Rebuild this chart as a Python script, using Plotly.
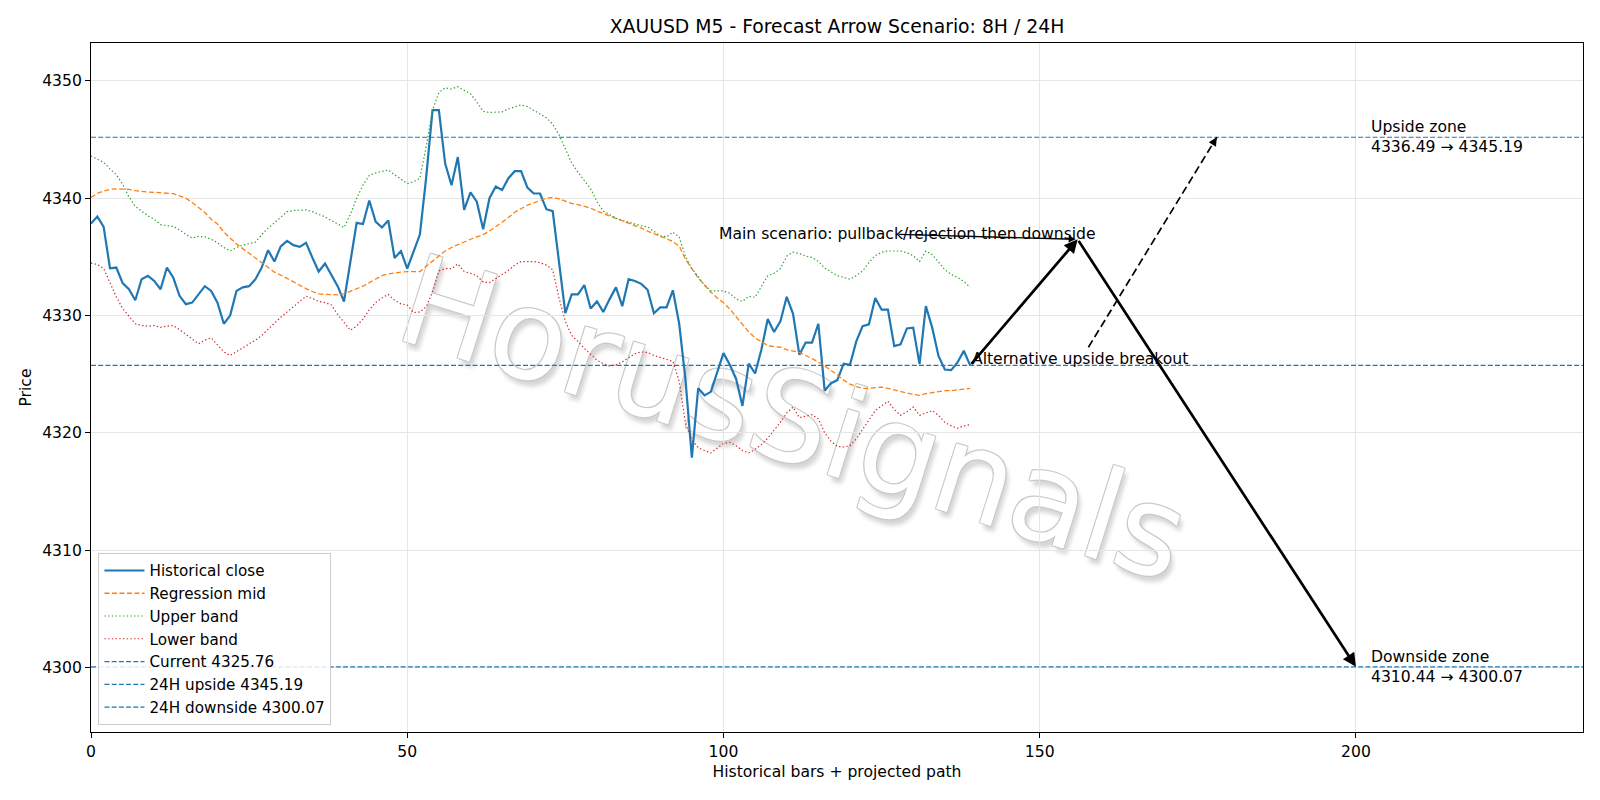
import plotly.graph_objects as go

# ---------------- data ----------------
bars = list(range(140))

close = [4337.84, 4338.44, 4337.56, 4334.03, 4334.09, 4332.76, 4332.24, 4331.30, 4333.10, 4333.38,
         4332.95, 4332.24, 4334.09, 4333.24, 4331.68, 4330.97, 4331.10, 4331.80, 4332.50, 4332.10,
         4331.10, 4329.30, 4330.00, 4332.10, 4332.40, 4332.50, 4333.10, 4334.10, 4335.57, 4334.60,
         4335.90, 4336.36, 4336.00, 4335.85, 4336.20, 4334.94, 4333.75, 4334.43, 4333.50, 4332.50,
         4331.20, 4334.50, 4337.90, 4337.80, 4339.80, 4338.00, 4337.50, 4338.10, 4334.90, 4335.50,
         4334.00, 4335.45, 4336.90, 4341.80, 4347.50, 4347.50, 4342.95, 4341.10, 4343.50, 4339.00,
         4340.50, 4339.70, 4337.35, 4340.00, 4341.00, 4340.70, 4341.70, 4342.30, 4342.30, 4340.90,
         4340.40, 4340.40, 4339.06, 4338.90, 4334.66, 4330.20, 4331.80, 4331.80, 4332.60, 4330.60,
         4331.20, 4330.30, 4331.40, 4332.40, 4330.80, 4333.10, 4332.95, 4332.70, 4332.20, 4330.20,
         4330.70, 4330.70, 4332.15, 4329.30, 4324.50, 4317.90, 4323.80, 4323.20, 4323.50, 4325.10,
         4326.80, 4325.80, 4324.60, 4322.30, 4325.90, 4325.06, 4327.10, 4329.70, 4328.60, 4329.50,
         4331.60, 4330.15, 4326.65, 4327.70, 4327.70, 4329.30, 4323.60, 4324.24, 4324.50, 4325.90,
         4325.80, 4327.80, 4329.10, 4329.25, 4331.50, 4330.50, 4330.50, 4327.40, 4327.55, 4328.90,
         4328.97, 4325.86, 4330.80, 4328.97, 4326.56, 4325.40, 4325.35, 4326.00, 4327.00, 4325.76]

mid = [4340.06, 4340.40, 4340.60, 4340.75, 4340.80, 4340.80, 4340.75, 4340.65, 4340.57, 4340.52,
       4340.50, 4340.45, 4340.43, 4340.38, 4340.20, 4340.00, 4339.63, 4339.20, 4338.78, 4338.20,
       4337.80, 4337.10, 4336.60, 4336.10, 4335.70, 4335.30, 4334.94, 4334.50, 4334.10, 4333.70,
       4333.45, 4333.15, 4332.90, 4332.60, 4332.30, 4332.05, 4331.85, 4331.80, 4331.76, 4331.76,
       4331.85, 4332.05, 4332.30, 4332.50, 4332.80, 4333.10, 4333.40, 4333.55, 4333.65, 4333.70,
       4333.75, 4333.73, 4333.75, 4334.20, 4334.66, 4335.10, 4335.50, 4335.80, 4336.05, 4336.30,
       4336.50, 4336.70, 4336.90, 4337.20, 4337.55, 4337.95, 4338.35, 4338.80, 4339.10, 4339.40,
       4339.60, 4339.80, 4340.00, 4340.06, 4339.95, 4339.75, 4339.55, 4339.45, 4339.30, 4339.15,
       4338.90, 4338.70, 4338.45, 4338.25, 4338.05, 4337.85, 4337.65, 4337.45, 4337.20, 4336.95,
       4336.75, 4336.55, 4336.30, 4335.90, 4334.80, 4334.00, 4333.20, 4332.60, 4332.00, 4331.50,
       4331.10, 4330.55, 4329.90, 4329.30, 4328.60, 4328.10, 4327.75, 4327.45, 4327.35, 4327.30,
       4327.10, 4326.95, 4326.85, 4326.60, 4326.35, 4326.05, 4325.70, 4325.35, 4324.95, 4324.50,
       4324.15, 4323.95, 4323.80, 4323.80, 4323.85, 4323.90, 4323.80, 4323.65, 4323.55, 4323.40,
       4323.30, 4323.20, 4323.35, 4323.45, 4323.50, 4323.60, 4323.60, 4323.65, 4323.75, 4323.80]

upper = [4343.60, 4343.35, 4343.05, 4342.50, 4342.00, 4341.20, 4340.10, 4339.30, 4338.90, 4338.50,
         4338.20, 4337.75, 4337.65, 4337.60, 4337.30, 4336.90, 4336.60, 4336.75, 4336.70, 4336.50,
         4336.20, 4335.80, 4335.50, 4335.80, 4336.00, 4336.10, 4336.25, 4336.90, 4337.45, 4337.90,
         4338.40, 4338.85, 4338.95, 4339.00, 4339.00, 4338.85, 4338.65, 4338.40, 4338.10, 4337.80,
         4337.50, 4338.60, 4340.00, 4341.10, 4341.95, 4342.15, 4342.30, 4342.40, 4342.00, 4341.60,
         4341.25, 4341.40, 4341.70, 4344.40, 4347.50, 4349.00, 4349.40, 4349.30, 4349.50, 4349.20,
         4348.90, 4348.20, 4347.40, 4347.30, 4347.30, 4347.35, 4347.60, 4347.80, 4347.95, 4347.80,
         4347.50, 4347.20, 4346.85, 4346.30, 4345.40, 4344.20, 4343.00, 4342.20, 4341.50, 4340.80,
         4339.70, 4338.90, 4338.60, 4338.30, 4338.10, 4337.95, 4337.75, 4337.65, 4337.55, 4337.20,
         4336.80, 4336.70, 4337.10, 4336.70, 4335.00, 4334.00, 4333.35, 4332.60, 4332.10, 4332.10,
         4332.10, 4331.90, 4331.40, 4331.20, 4331.65, 4331.55, 4332.50, 4333.40, 4333.60, 4334.00,
         4335.05, 4335.40, 4335.30, 4335.05, 4334.95, 4334.60, 4334.05, 4333.70, 4333.40, 4333.25,
         4333.10, 4333.40, 4333.80, 4334.50, 4335.10, 4335.40, 4335.50, 4335.50, 4335.50, 4335.35,
         4335.10, 4334.60, 4335.50, 4335.20, 4334.50, 4333.90, 4333.50, 4333.25, 4332.90, 4332.40]

lower = [4334.46, 4334.35, 4334.00, 4332.80, 4331.60, 4330.60, 4329.90, 4329.30, 4329.15, 4329.10,
         4329.15, 4329.00, 4329.10, 4329.15, 4328.80, 4328.40, 4328.00, 4327.60, 4327.90, 4328.10,
         4327.50, 4326.90, 4326.60, 4326.90, 4327.25, 4327.60, 4327.90, 4328.30, 4328.85, 4329.35,
         4329.85, 4330.30, 4330.75, 4331.20, 4331.65, 4331.45, 4331.20, 4331.10, 4330.90, 4330.10,
         4329.40, 4328.75, 4329.10, 4329.70, 4330.50, 4331.10, 4331.50, 4331.80, 4331.30, 4331.00,
         4330.90, 4330.25, 4330.30, 4330.75, 4332.00, 4333.80, 4334.00, 4334.00, 4334.40, 4333.75,
         4333.60, 4333.40, 4332.85, 4332.80, 4333.15, 4333.50, 4333.85, 4334.30, 4334.60, 4334.60,
         4334.60, 4334.50, 4334.30, 4333.90, 4331.50, 4329.50, 4328.30, 4327.80, 4327.20, 4326.70,
         4326.20, 4325.90, 4325.70, 4325.80, 4326.05, 4326.40, 4326.75, 4326.90, 4326.85, 4326.60,
         4326.45, 4326.30, 4326.10, 4324.40, 4320.80, 4319.40, 4318.75, 4318.50, 4318.30, 4318.70,
         4319.10, 4319.20, 4318.90, 4318.50, 4318.30, 4318.60, 4319.00, 4319.55, 4320.20, 4320.90,
         4321.70, 4322.20, 4321.30, 4321.40, 4321.55, 4321.20, 4320.00, 4319.30, 4318.85, 4318.80,
         4318.90, 4319.50, 4320.30, 4321.10, 4321.90, 4322.30, 4322.70, 4322.00, 4321.50, 4321.80,
         4322.20, 4321.50, 4321.70, 4321.90, 4321.50, 4320.90, 4320.60, 4320.40, 4320.60, 4320.70]

current_price = 4325.76
up_8h = 4336.49
up_24h = 4345.19
down_8h = 4310.44
down_24h = 4300.07

# scenario path geometry (bar index / price)
last_x = bars[-1]
peak_x = 156
down_x = 200
alt_x = 178
alt_start_x = 157.7
alt_start_y = 4327.3
main_text_x = 99
label_x = 202
wm_x = 111.5
wm_y = 4322

x_ticks = [0, 50, 100, 150, 200]
y_ticks = [4300, 4310, 4320, 4330, 4340, 4350]
x_range = [0, 235.9]
y_range = [4294.52, 4353.22]

# ---------------- style ----------------
FONT = "DejaVu Sans"
FS = 15.6
BLUE = "#1f77b4"
ORANGE = "#ff7f0e"
GREEN = "#2ca02c"
RED = "#d62728"

fig = go.Figure()

# watermark: a label on an invisible shape drawn below the traces
OUT = "#c9c9c9"
fig.add_shape(type="line", xref="x", yref="y", x0=wm_x - 1, x1=wm_x + 1, y0=wm_y, y1=wm_y,
              layer="below", line=dict(color="rgba(0,0,0,0)", width=0),
              label=dict(text="HorusSignals", textangle=17.5, textposition="middle",
                         xanchor="center", yanchor="middle", padding=0,
                         font=dict(family=FONT, size=125, color="#ffffff",
                                   shadow=f"-1px -1px 0 {OUT}, 1px -1px 0 {OUT}, -1px 1px 0 {OUT}, "
                                          f"1px 1px 0 {OUT}, 5px 5px 4px #d6d6d6")))

fig.add_trace(go.Scatter(x=bars, y=close, mode="lines", name="Historical close",
                         line=dict(color=BLUE, width=2.2), legendrank=1, legendgroup="g1"))
fig.add_trace(go.Scatter(x=bars, y=mid, mode="lines", name="Regression mid",
                         line=dict(color=ORANGE, width=1.3, dash="5px,2.5px"), legendrank=2, legendgroup="g2"))
fig.add_trace(go.Scatter(x=bars, y=upper, mode="lines", name="Upper band",
                         line=dict(color=GREEN, width=1.2, dash="1.4px,2.3px"), legendrank=3, legendgroup="g3"))
fig.add_trace(go.Scatter(x=bars, y=lower, mode="lines", name="Lower band",
                         line=dict(color=RED, width=1.2, dash="1.4px,2.3px"), legendrank=4, legendgroup="g4"))

hlines = [(current_price, f"Current {current_price:.2f}"),
          (up_24h, f"24H upside {up_24h:.2f}"),
          (down_24h, f"24H downside {down_24h:.2f}")]
for k, (val, lab) in enumerate(hlines):
    fig.add_shape(type="line", xref="x domain", yref="y", x0=0, x1=1, y0=val, y1=val,
                  line=dict(color=BLUE, width=1.2, dash="5px,2.2px"),
                  showlegend=True, name=lab, legendrank=5 + k, legendgroup=f"h{k}")

# dashed alternative path
fig.add_shape(type="line", xref="x", yref="y", x0=alt_start_x, y0=alt_start_y, x1=alt_x, y1=up_24h,
              line=dict(color="black", width=1.7, dash="8px,4px"))

annos = []
# thick arrows: current -> peak, peak -> downside
annos.append(dict(x=peak_x, y=up_8h, ax=last_x, ay=current_price, axref="x", ayref="y",
                  xref="x", yref="y", text="", showarrow=True, arrowhead=2, arrowsize=1,
                  arrowwidth=2.7, arrowcolor="black", standoff=0, startstandoff=0))
annos.append(dict(x=down_x, y=down_24h, ax=peak_x, ay=up_8h, axref="x", ayref="y",
                  xref="x", yref="y", text="", showarrow=True, arrowhead=2, arrowsize=1,
                  arrowwidth=2.7, arrowcolor="black", standoff=0, startstandoff=0))
# head of the dashed arrow
annos.append(dict(x=alt_x, y=up_24h, ax=-5.2, ay=8.5, xref="x", yref="y", text="",
                  showarrow=True, arrowhead=2, arrowsize=1, arrowwidth=1.7, arrowcolor="black",
                  standoff=0))
# thin arrow from main scenario text
annos.append(dict(x=peak_x, y=up_8h, ax=-180, ay=-5, xref="x", yref="y", text="",
                  showarrow=True, arrowhead=2, arrowsize=1, arrowwidth=1.4, arrowcolor="black",
                  standoff=2))
annos.append(dict(x=main_text_x, y=up_8h, xref="x", yref="y", xanchor="left", yanchor="middle",
                  yshift=5, text="Main scenario: pullback/rejection then downside", showarrow=False,
                  font=dict(family=FONT, size=FS, color="black")))
annos.append(dict(x=last_x, y=current_price, xref="x", yref="y", xanchor="left", yanchor="middle",
                  yshift=6, text="Alternative upside breakout", showarrow=False,
                  font=dict(family=FONT, size=FS, color="black")))
annos.append(dict(x=label_x, y=up_24h, xref="x", yref="y", xanchor="left", yanchor="middle",
                  align="left", text=f"Upside zone<br>{up_8h:.2f} → {up_24h:.2f}", showarrow=False,
                  font=dict(family=FONT, size=FS, color="black")))
annos.append(dict(x=label_x, y=down_24h, xref="x", yref="y", xanchor="left", yanchor="middle",
                  align="left", text=f"Downside zone<br>{down_8h:.2f} → {down_24h:.2f}", showarrow=False,
                  font=dict(family=FONT, size=FS, color="black")))

fig.update_layout(
    width=1600, height=800,
    margin=dict(l=91, r=17, t=43, b=68),
    paper_bgcolor="white", plot_bgcolor="white",
    font=dict(family=FONT, size=FS, color="black"),
    title=dict(text="XAUUSD M5 - Forecast Arrow Scenario: 8H / 24H", x=0.5, xref="paper",
               xanchor="center", y=1 - 26.5 / 800, yref="container", yanchor="middle",
               font=dict(family=FONT, size=18.8, color="black")),
    showlegend=True,
    legend=dict(x=0.005, y=0.01, xanchor="left", yanchor="bottom",
                bgcolor="rgba(255,255,255,0.85)", bordercolor="#cccccc", borderwidth=1,
                font=dict(family=FONT, size=15.2, color="black"), itemwidth=40,
                traceorder="grouped", tracegroupgap=0),
    annotations=annos,
    hovermode=False,
)
fig.update_xaxes(range=x_range, tickvals=x_ticks, ticks="outside", ticklen=5, tickcolor="black",
                 showline=True, linecolor="black", linewidth=1, mirror=True,
                 showgrid=True, gridcolor="#e6e6e6", gridwidth=1, zeroline=False,
                 title=dict(text="Historical bars + projected path", standoff=6,
                            font=dict(family=FONT, size=FS, color="black")),
                 tickfont=dict(family=FONT, size=FS, color="black"))
fig.update_yaxes(range=y_range, tickvals=y_ticks, ticks="outside", ticklen=5, tickcolor="black",
                 showline=True, linecolor="black", linewidth=1, mirror=True,
                 showgrid=True, gridcolor="#e6e6e6", gridwidth=1, zeroline=False,
                 title=dict(text="Price", standoff=6, font=dict(family=FONT, size=FS, color="black")),
                 tickfont=dict(family=FONT, size=FS, color="black"))

fig.write_html("out.html")
